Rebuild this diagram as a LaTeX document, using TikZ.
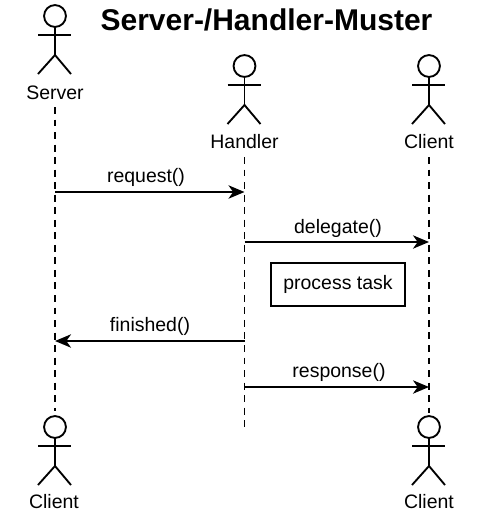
\documentclass[tikz,border=0pt]{standalone}
\usepackage{fontspec}
\setmainfont{Liberation Sans}
\usetikzlibrary{arrows.meta}
\tikzset{
  x=0.75pt,y=-0.75pt,
  stick/.style={line width=1.4pt,black},
  lifeline/.style={line width=1.1pt,dash pattern=on 5.2pt off 4.2pt},
  msg/.style={line width=1.5pt,-{Stealth[length=12pt,width=10pt,inset=3.5pt]}},
  msgthin/.style={msg,line width=1.15pt},
  lbl/.style={font=\fontsize{14.6pt}{17pt}\selectfont,inner sep=0pt,text=black},
  taskbox/.style={draw,line width=1.5pt,minimum width=100pt,minimum height=32.5pt,inner sep=0pt,font=\fontsize{14.6pt}{17pt}\selectfont},
  actor/.pic={
    \draw[stick] (0,11) circle[radius=8.2pt];
    \draw[stick] (0,22) -- (0,50);
    \draw[stick] (-17,30) -- (16,30);
    \draw[stick] (-17,69) -- (0,50) -- (16,69);
  }
}
\begin{document}
\begin{tikzpicture}
\useasboundingbox (0,0) rectangle (502,518);
\node[font=\bfseries\fontsize{22.5pt}{26pt}\selectfont,inner sep=0pt] (title) at (266.5,20) {Server-/Handler-Muster};
\pic at (55,5) {actor};
\pic at (244.5,55) {actor};
\pic at (429,55) {actor};
\pic at (55,416) {actor};
\pic at (429,416) {actor};
\node[lbl] (server) at (55,92.5) {Server};
\node[lbl] (handler) at (244.5,141.5) {Handler};
\node[lbl] (client) at (429,141.5) {Client};
\node[lbl] (clientb) at (54,501.5) {Client};
\node[lbl] (clientc) at (429,501.5) {Client};
\coordinate (s0) at (55,107);
\coordinate (s1) at (55,411);
\coordinate (h0) at (244.5,157);
\coordinate (h1) at (244.5,428);
\coordinate (c0) at (429,157);
\coordinate (c1) at (429,413);
\draw[lifeline] (s0) -- (s1);
\draw[lifeline] (h0) -- (h1);
\draw[lifeline] (c0) -- (c1);
\coordinate (a1) at (55,192);
\coordinate (a2) at (244.5,192);
\coordinate (b1) at (244.5,242);
\coordinate (b2) at (429,242);
\coordinate (d1) at (244.5,341);
\coordinate (d2) at (55,341);
\coordinate (e1) at (244.5,387);
\coordinate (e2) at (429,387);
\draw[msg] (a1) -- (a2);
\draw[msgthin] (b1) -- (b2);
\draw[msg] (d1) -- (d2);
\draw[msgthin] (e1) -- (e2);
\node[lbl] (l1) at (146,177) {request()};
\node[lbl] (l2) at (338,228) {delegate()};
\node[lbl] (l3) at (150,326) {finished()};
\node[lbl] (l4) at (339,372) {response()};
\node[taskbox] (task) at (338,284.5) {process task};
\end{tikzpicture}
\end{document}
